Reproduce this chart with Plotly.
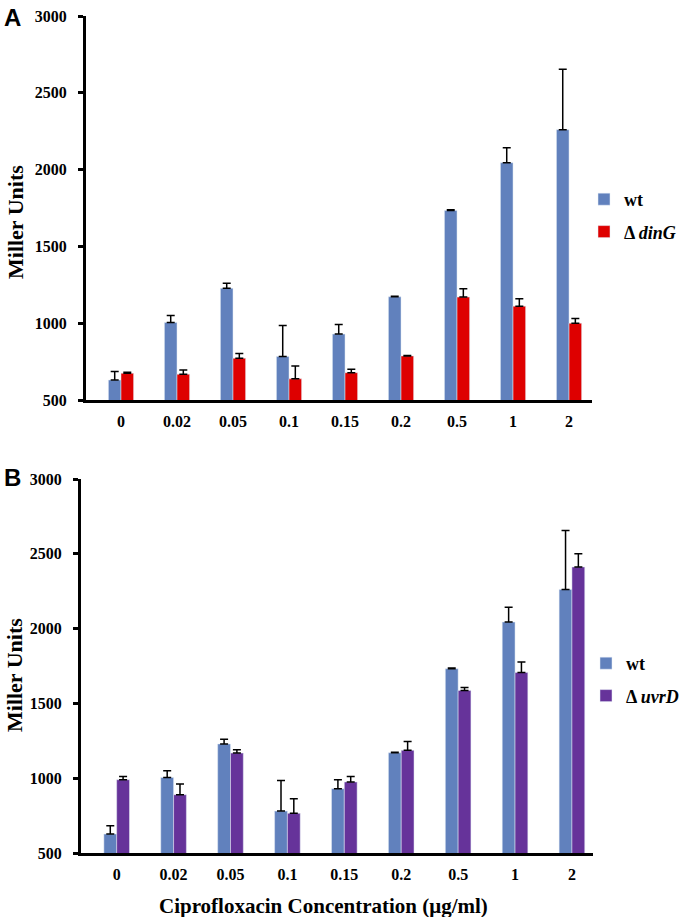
import plotly.graph_objects as go

categories = ["0", "0.02", "0.05", "0.1", "0.15", "0.2", "0.5", "1", "2"]

# Panel A
wt_a = [630, 1005, 1227, 783, 929, 1172, 1734, 2045, 2260]
wt_a_err = [55, 45, 33, 202, 63, 4, 5, 98, 394]
ding = [674, 668, 772, 638, 678, 787, 1170, 1111, 1000]
ding_err = [6, 28, 30, 84, 22, 3, 55, 48, 31]

# Panel B
wt_b = [627, 1005, 1229, 780, 930, 1170, 1732, 2044, 2262]
wt_b_err = [55, 45, 31, 205, 60, 4, 5, 98, 394]
uvrd = [990, 890, 1168, 765, 975, 1186, 1587, 1707, 2412]
uvrd_err = [22, 71, 22, 98, 37, 60, 20, 70, 88]

BLUE = "#6181BD"
RED = "#DE0000"
PURPLE = "#66339A"

SERIF = "Liberation Serif"

def err(vals):
    return dict(type="data", array=vals, arrayminus=[0] * len(vals), symmetric=False,
                color="black", thickness=1.5, width=4)

fig = go.Figure()
fig.add_trace(go.Bar(x=categories, y=wt_a, name="<b>wt</b>", marker_color=BLUE,
                     error_y=err(wt_a_err), xaxis="x", yaxis="y",
                     legend="legend", legendgroup="a1"))
fig.add_trace(go.Bar(x=categories, y=ding, name="<b>Δ <i>dinG</i></b>", marker_color=RED,
                     error_y=err(ding_err), xaxis="x", yaxis="y",
                     legend="legend", legendgroup="a2"))
fig.add_trace(go.Bar(x=categories, y=wt_b, name="<b>wt</b>", marker_color=BLUE,
                     error_y=err(wt_b_err), xaxis="x2", yaxis="y2",
                     legend="legend2", legendgroup="b1"))
fig.add_trace(go.Bar(x=categories, y=uvrd, name="<b>Δ <i>uvrD</i></b>", marker_color=PURPLE,
                     error_y=err(uvrd_err), xaxis="x2", yaxis="y2",
                     legend="legend2", legendgroup="b2"))

tickfont = dict(family=SERIF, size=16, color="black", weight="bold")
titlefont = dict(family=SERIF, size=22, color="black", weight="bold")

xcommon = dict(type="category", showline=True, linewidth=3, linecolor="black",
               ticks="", showgrid=False, tickfont=tickfont, zeroline=False,
               automargin=False, ticklabelstandoff=5)
ycommon = dict(range=[500, 3000], tickvals=[500, 1000, 1500, 2000, 2500, 3000],
               showline=True, linewidth=3, linecolor="black", ticks="outside",
               ticklen=5, tickwidth=3, tickcolor="black", showgrid=False,
               zeroline=False, tickfont=tickfont, automargin=False,
               ticklabelstandoff=8)

legfont = dict(family=SERIF, size=18, color="black")

def paper_text(text, x, y, size, family=SERIF, angle=0, xanchor="center", yanchor="middle"):
    return dict(text=text, x=x / 680, y=1 - y / 917, xref="paper", yref="paper",
                xanchor=xanchor, yanchor=yanchor, showarrow=False, textangle=angle,
                font=dict(family=family, size=size, color="black"))

fig.update_layout(
    width=680, height=917,
    margin=dict(l=0, r=0, t=0, b=0, autoexpand=False),
    paper_bgcolor="white", plot_bgcolor="white",
    barmode="group", bargap=0.55, bargroupgap=0,
    xaxis=dict(domain=[86 / 680, 592 / 680], anchor="y", range=[-0.625, 8.41], **xcommon),
    yaxis=dict(domain=[1 - 400 / 917, 1 - 16 / 917], anchor="x", **ycommon),
    xaxis2=dict(domain=[81 / 680, 593 / 680], anchor="y2", range=[-0.627, 8.37], **xcommon),
    yaxis2=dict(domain=[1 - 853 / 917, 1 - 479 / 917], anchor="x2", **ycommon),
    legend=dict(x=584 / 680, y=1 - 181 / 917, xanchor="left", yanchor="top",
                font=legfont, itemwidth=30, tracegroupgap=6,
                bgcolor="rgba(0,0,0,0)"),
    legend2=dict(x=586 / 680, y=1 - 645 / 917, xanchor="left", yanchor="top",
                 font=legfont, itemwidth=30, tracegroupgap=6,
                 bgcolor="rgba(0,0,0,0)"),
    annotations=[
        paper_text("<b>A</b>", 2, 2, 24, family="Liberation Sans", xanchor="left", yanchor="top"),
        paper_text("<b>B</b>", 2, 462, 24, family="Liberation Sans", xanchor="left", yanchor="top"),
        paper_text("<b>Miller Units</b>", 15, 222, 22, angle=-90),
        paper_text("<b>Miller Units</b>", 14, 675, 22, angle=-90),
        paper_text("<b>Ciprofloxacin Concentration (μg/ml)</b>", 323, 906, 21),
    ],
)

fig.write_html(
    "out.html",
    config={"displayModeBar": False},
    post_script="document.body.style.margin='0';document.body.style.overflow='hidden';",
)
